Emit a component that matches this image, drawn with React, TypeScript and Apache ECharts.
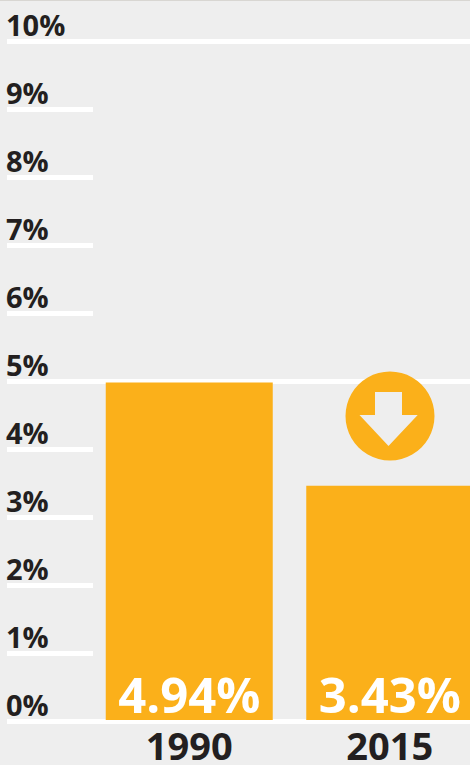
import React, { useEffect, useRef } from "react";
import * as echarts from "echarts";

const years = ["1990", "2015"];
const shares = [4.94, 3.43];
const minorTicks = [0, 10];
const majorTicks = [0, 10];

const FONT = '"Open Sans", sans-serif';
const INK = "#231f20";
const AMBER = "#fbb01a";
const PAPER = "#eeeeee";

export default function App() {
  const ref = useRef<HTMLDivElement>(null);
  useEffect(() => {
    const chart = echarts.init(ref.current!, undefined, { renderer: "svg" });
    const line = { show: true, lineStyle: { color: "#ffffff", width: 5 } };
    const hiddenX = { type: "value", min: 0, max: 1, show: false };
    chart.setOption({
      animation: false,
      backgroundColor: PAPER,
      grid: [
        { left: 7, width: 86, top: 41.5, height: 680, outerBoundsMode: "none" },
        { left: 7, width: 463, top: 41.5, height: 680, outerBoundsMode: "none" },
        { left: 89, width: 401, top: 37, height: 683, outerBoundsMode: "none" },
      ],
      xAxis: [
        { ...hiddenX, gridIndex: 0 },
        { ...hiddenX, gridIndex: 1 },
        {
          type: "category",
          gridIndex: 2,
          data: years,
          axisLine: { show: false },
          axisTick: { show: false },
          axisLabel: { fontFamily: FONT, fontWeight: 700, fontSize: 38, color: INK, margin: 8, lineHeight: 34, hideOverlap: false },
        },
      ],
      yAxis: [
        {
          type: "value",
          gridIndex: 0,
          min: minorTicks[0],
          max: minorTicks[1],
          interval: 1,
          axisLine: { show: false },
          axisTick: { show: false },
          splitLine: line,
          axisLabel: {
            inside: true,
            margin: 0,
            align: "left",
            verticalAlign: "bottom",
            fontFamily: FONT,
            fontWeight: 700,
            fontSize: 29,
            color: INK,
            lineHeight: 34,
            padding: [0, 0, 0, -1],
            formatter: "{value}%",
          },
        },
        {
          type: "value",
          gridIndex: 1,
          min: majorTicks[0],
          max: majorTicks[1],
          interval: 5,
          axisLine: { show: false },
          axisTick: { show: false },
          axisLabel: { show: false },
          splitLine: line,
        },
        { type: "value", gridIndex: 2, min: 0, max: 10, show: false, splitLine: { show: false } },
      ],
      series: [
        {
          type: "bar",
          xAxisIndex: 2,
          yAxisIndex: 2,
          data: shares,
          barWidth: 167,
          itemStyle: { color: AMBER },
          label: {
            show: true,
            position: "insideBottom",
            distance: 2,
            fontFamily: FONT,
            fontWeight: 700,
            fontSize: 49,
            color: "#ffffff",
            formatter: "{c}%",
          },
        },
      ],
      graphic: [
        { type: "rect", left: 0, top: 0, shape: { width: 470, height: 1 }, style: { fill: "#d8d6d2" } },
        { type: "circle", shape: { cx: 390, cy: 416, r: 44.5 }, style: { fill: AMBER }, z: 10 },
        {
          type: "polygon",
          z: 11,
          shape: {
            points: [[375, 392], [402, 392], [402, 415], [417.7, 415], [388.5, 446], [359.5, 415], [375, 415]],
          },
          style: { fill: PAPER },
        },
      ],
    });
    return () => chart.dispose();
  }, []);
  return <div ref={ref} style={{ position: "absolute", left: 0, top: 0, width: 470, height: 765 }} />;
}
